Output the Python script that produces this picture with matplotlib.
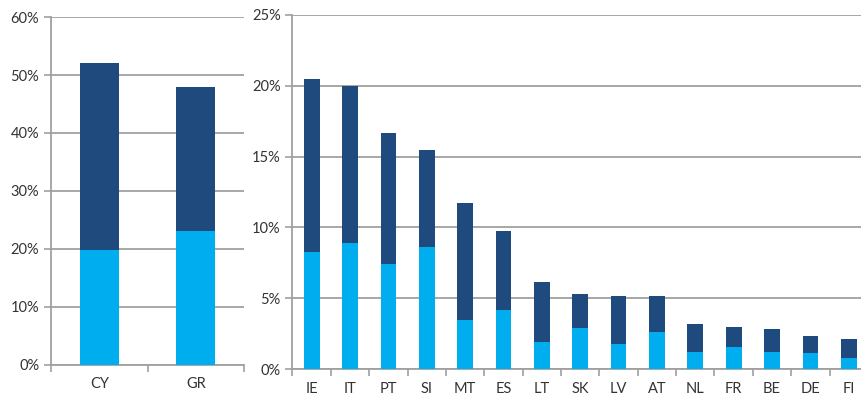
import numpy as np
import matplotlib
matplotlib.use("Agg")
import matplotlib.pyplot as plt
from matplotlib.ticker import FuncFormatter

plt.rcParams['font.family'] = ['Lato', 'DejaVu Sans']

# left panel
left_countries = ['CY', 'GR']
left_light = [19.8, 23.1]
left_total = [52.0, 47.9]

# right panel
right_countries = ['IE', 'IT', 'PT', 'SI', 'MT', 'ES', 'LT', 'SK', 'LV', 'AT',
                   'NL', 'FR', 'BE', 'DE', 'FI']
right_light = [8.25, 8.9, 7.4, 8.6, 3.45, 4.15, 1.9, 2.9, 1.75, 2.6,
               1.2, 1.55, 1.2, 1.15, 0.75]
right_total = [20.5, 20.0, 16.7, 15.45, 11.7, 9.75, 6.15, 5.3, 5.15, 5.15,
               3.15, 3.0, 2.8, 2.35, 2.15]

dark = '#1F4A7E'
light = '#00AEEF'
grey = '#A0A0A0'

fig = plt.figure(figsize=(8.62, 4.01), dpi=100)
ax1 = fig.add_axes([0.0592, 0.0898, 0.2239, 0.8678])
ax2 = fig.add_axes([0.3393, 0.0798, 0.6676, 0.8828])


def draw(ax, names, lo, tot, width, ymax, step):
    x = np.arange(len(names))
    hi = np.array(tot) - np.array(lo)
    ax.bar(x, lo, width, color=light, zorder=3)
    ax.bar(x, hi, width, bottom=lo, color=dark, zorder=3)
    ax.set_xlim(-0.5, len(names) - 0.5)
    ax.set_ylim(0, ymax)
    ax.set_yticks(np.arange(0, ymax + 0.01, step))
    ax.yaxis.set_major_formatter(FuncFormatter(lambda v, p: f'{v:.0f}%'))
    ax.yaxis.grid(True, color=grey, linewidth=1.3, zorder=0)
    ax.set_xticks(x)
    ax.set_xticklabels(names)
    ax.set_xticks(np.arange(-0.5, len(names)), minor=True)
    ax.tick_params(axis='x', which='major', length=0, pad=9, labelsize=10.5, colors='#333333')
    ax.tick_params(axis='x', which='minor', length=5, color=grey, width=1.2)
    ax.tick_params(axis='y', length=5, color=grey, width=1.2, labelsize=10.5, colors='#333333')
    for s in ['top', 'right']:
        ax.spines[s].set_visible(False)
    for s in ['left', 'bottom']:
        ax.spines[s].set_color(grey)
        ax.spines[s].set_linewidth(1.3)


draw(ax1, left_countries, left_light, left_total, 0.4, 60, 10)
draw(ax2, right_countries, right_light, right_total, 0.41, 25, 5)

fig.savefig('out.png', dpi=100)
